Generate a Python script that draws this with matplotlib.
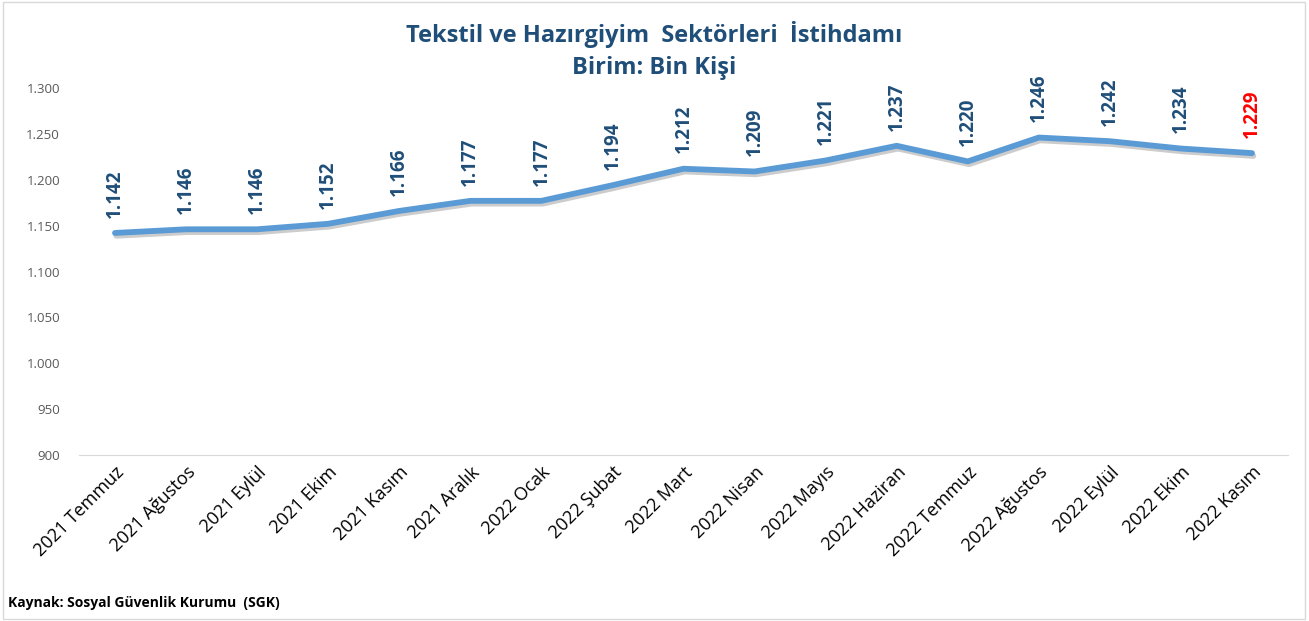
import numpy as np
import matplotlib.pyplot as plt
from matplotlib import patheffects as pe
from matplotlib.patches import Rectangle

plt.rcParams['font.family'] = ['Open Sans', 'DejaVu Sans']

# Months (x-axis categories)
months = ['2021 Temmuz', '2021 Ağustos', '2021 Eylül', '2021 Ekim', '2021 Kasım',
          '2021 Aralık', '2022 Ocak', '2022 Şubat', '2022 Mart', '2022 Nisan',
          '2022 Mayıs', '2022 Haziran', '2022 Temmuz', '2022 Ağustos', '2022 Eylül',
          '2022 Ekim', '2022 Kasım']

# Employment, thousand persons
employment = [1142, 1146, 1146, 1152, 1166, 1177, 1177, 1194, 1212, 1209,
              1221, 1237, 1220, 1246, 1242, 1234, 1229]

y_ticks = [900, 950, 1000, 1050, 1100, 1150, 1200, 1250, 1300]

def tr_fmt(v):
    # Turkish thousands separator
    return f'{v:,.0f}'.replace(',', '.')

line_color = '#5B9BD5'
label_color = '#1F4E79'

fig = plt.figure(figsize=(13.09, 6.21), dpi=100)
ax = fig.add_axes([0.0607, 0.2673, 0.9229, 0.591])

x_pos = np.arange(len(months))
ax.plot(x_pos, employment, color=line_color, linewidth=4.2, solid_capstyle='round',
        path_effects=[pe.SimpleLineShadow(offset=(1, -2), alpha=0.2),
                      pe.Normal()])

for i, v in enumerate(employment):
    col = 'red' if i == len(employment) - 1 else label_color
    ax.annotate(tr_fmt(v), (x_pos[i], v), xytext=(0, 11), textcoords='offset points',
                rotation=90, ha='center', va='bottom', fontsize=13.5,
                fontweight='bold', color=col)

ax.set_xlim(-0.5, len(months) - 0.5)
ax.set_ylim(900, 1300)
ax.set_yticks(y_ticks)
ax.set_yticklabels([tr_fmt(t) for t in y_ticks], fontsize=9.5, color='#595959')
ax.set_xticks(x_pos)
ax.set_xticklabels(months, rotation=45, ha='right', rotation_mode='anchor',
                   fontsize=13, color='black')
ax.tick_params(axis='both', length=0)
ax.tick_params(axis='y', pad=14)
ax.tick_params(axis='x', pad=6)

for side in ['top', 'right', 'left']:
    ax.spines[side].set_visible(False)
ax.spines['bottom'].set_color('#D9D9D9')

fig.text(0.5, 0.945, 'Tekstil ve Hazırgiyim  Sektörleri  İstihdamı', ha='center', va='center',
         fontsize=17, fontweight='bold', color=label_color)
fig.text(0.5, 0.89, 'Birim: Bin Kişi', ha='center', va='center',
         fontsize=17, fontweight='bold', color=label_color)
fig.text(0.006, 0.029, 'Kaynak: Sosyal Güvenlik Kurumu  (SGK)', ha='left', va='center',
         fontsize=10, fontweight='bold', color='black')

fig.patches.append(Rectangle((0.002, 0.003), 0.995, 0.994, transform=fig.transFigure,
                             fill=False, edgecolor='#D9D9D9', linewidth=1))

plt.savefig('out.png', dpi=100)
